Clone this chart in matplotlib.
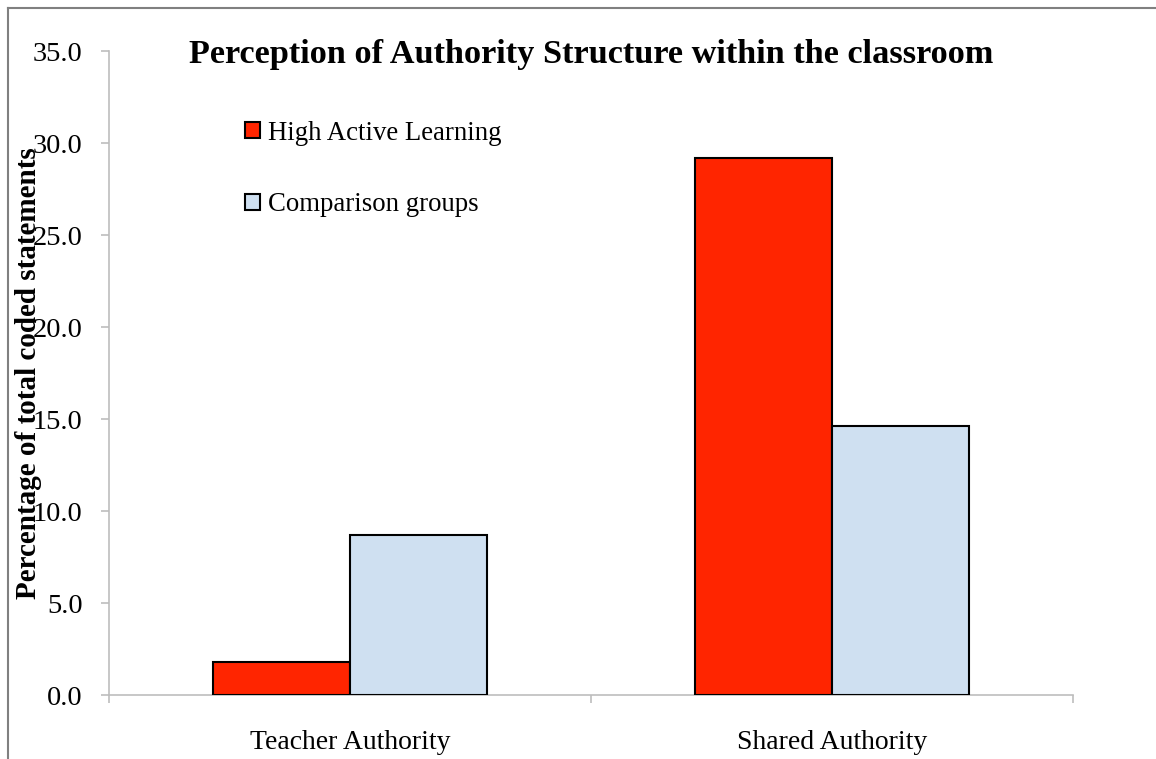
import numpy as np
import matplotlib.pyplot as plt
from matplotlib.lines import Line2D

categories = ['Teacher Authority', 'Shared Authority']
high_active = [1.8, 29.2]
comparison = [8.7, 14.6]
series_names = ['High Active Learning', 'Comparison groups']
yticks = [0, 5, 10, 15, 20, 25, 30, 35]

plt.rcParams['font.family'] = ['Liberation Serif', 'DejaVu Serif']

fig = plt.figure(figsize=(11.56, 7.59), dpi=100)
ax = fig.add_axes([0.0943, 0.0843, 0.8339, 0.8485])

x = np.arange(len(categories)) + 0.5
w = 0.285
ax.bar(x - w / 2, high_active, w, color='#ff2500', edgecolor='black', linewidth=1.5,
       label=series_names[0], zorder=3)
ax.bar(x + w / 2, comparison, w, color='#cfe0f1', edgecolor='black', linewidth=1.5,
       label=series_names[1], zorder=3)

ax.set_xlim(0, 2)
ax.set_ylim(0, 35)
ax.set_yticks(yticks)
ax.set_yticklabels(['%.1f' % t for t in yticks])
ax.set_xticks(x)
ax.set_xticklabels(categories)
ax.set_xticks([0, 1, 2], minor=True)

for s in ['top', 'right']:
    ax.spines[s].set_visible(False)
for s in ['left', 'bottom']:
    ax.spines[s].set_color('#bdbdbd')
    ax.spines[s].set_linewidth(1.2)

ax.tick_params(axis='y', direction='out', length=6, width=1.2, color='#bdbdbd',
               pad=13, labelsize=20.5)
ax.tick_params(axis='x', which='major', length=0, pad=25, labelsize=20)
ax.tick_params(axis='x', which='minor', direction='out', length=6, width=1.2,
               color='#bdbdbd')

# the label sits over the tick labels, as in the original
ax.set_ylabel('Percentage of total coded statements', fontsize=21, fontweight='bold',
              va='center')
ax.yaxis.set_label_coords(-0.083, 0.5)

ax.text(0.5, 0.995, 'Perception of Authority Structure within the classroom',
        transform=ax.transAxes, ha='center', va='center', fontsize=24.7,
        fontweight='bold')

ax.legend(loc='upper left', bbox_to_anchor=(0.141, 0.892), frameon=False,
          fontsize=19.3, handlelength=0.55, handleheight=0.55, handletextpad=0.3,
          labelspacing=1.75, borderaxespad=0, borderpad=0)

# frame lines at top and left edge
fig.add_artist(Line2D([8 / 1156, 8 / 1156], [0, 1 - 8 / 759], color='#808080',
                      linewidth=1.5, transform=fig.transFigure))
fig.add_artist(Line2D([8 / 1156, 1], [1 - 8 / 759, 1 - 8 / 759], color='#808080',
                      linewidth=1.5, transform=fig.transFigure))

fig.savefig('out.png', dpi=100)
